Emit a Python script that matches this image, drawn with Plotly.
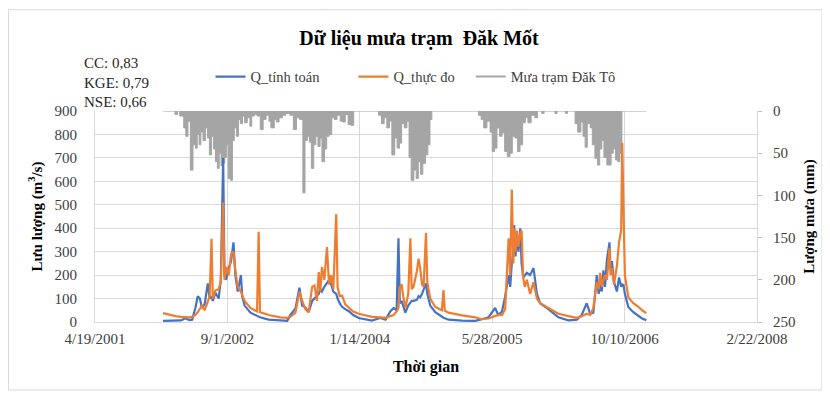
import plotly.graph_objects as go

# ---------------- data ----------------
q_dates = [
    "2002-01-01","2002-01-25","2002-02-17","2002-03-10","2002-03-26","2002-04-10","2002-04-21",
    "2002-05-03","2002-05-12","2002-05-20","2002-05-28","2002-06-07","2002-06-19","2002-06-26",
    "2002-07-03","2002-07-08","2002-07-18","2002-07-30","2002-08-07","2002-08-16","2002-08-21",
    "2002-08-27","2002-09-06","2002-09-15","2002-09-24","2002-10-01","2002-10-10","2002-10-22",
    "2002-10-27","2002-11-05","2002-11-27","2002-12-22","2002-12-28","2003-01-02","2003-02-04",
    "2003-03-20","2003-04-15","2003-04-27","2003-05-16","2003-05-31","2003-06-10","2003-06-22",
    "2003-07-05","2003-07-18","2003-07-27","2003-08-05","2003-08-12","2003-08-18","2003-08-24",
    "2003-09-02","2003-09-12","2003-09-20","2003-09-28","2003-10-06","2003-10-17","2003-10-22",
    "2003-10-30","2003-11-08","2003-11-20","2003-12-05","2003-12-20","2004-01-10","2004-02-29",
    "2004-03-31","2004-04-20","2004-05-08","2004-05-21","2004-06-01","2004-06-08","2004-06-13",
    "2004-06-20","2004-06-26","2004-07-04","2004-07-15","2004-07-23","2004-07-28","2004-08-04",
    "2004-08-17","2004-08-23","2004-08-29","2004-09-05","2004-09-11","2004-09-20","2004-09-25",
    "2004-10-06","2004-10-25","2004-11-19","2004-11-25","2004-11-30","2004-12-14","2005-02-03",
    "2005-03-25","2005-04-19","2005-05-14","2005-06-08","2005-06-20","2005-07-04","2005-07-16",
    "2005-07-29","2005-08-04","2005-08-10","2005-08-16","2005-08-19","2005-08-24","2005-08-29",
    "2005-09-04","2005-09-11","2005-09-16","2005-09-22","2005-09-28","2005-10-06","2005-10-18",
    "2005-10-31","2005-11-13","2005-11-25","2005-12-26","2006-02-02","2006-03-12","2006-04-13",
    "2006-05-01","2006-05-20","2006-06-02","2006-06-14","2006-06-27","2006-07-04","2006-07-10",
    "2006-07-16","2006-07-22","2006-07-28","2006-08-04","2006-08-14","2006-08-18","2006-08-23",
    "2006-08-31","2006-09-05","2006-09-11","2006-09-19","2006-09-27","2006-10-01","2006-10-06",
    "2006-10-11","2006-10-24","2006-11-12","2006-12-01","2006-12-15","2006-12-31",
]
q_sim = [
    5, 5, 6, 7, 16, 8, 10,
    60, 110, 100, 60, 75, 165, 100,
    110, 90, 125, 100, 180, 700, 200,
    180, 230, 260, 340, 200, 130, 200,
    110, 70, 40, 25, 23, 20, 10,
    5, 5, 30, 58, 146, 70, 63,
    42, 90, 100, 110, 120, 140, 130,
    150, 170, 180, 160, 130, 120, 100,
    80, 65, 55, 45, 30, 17, 6,
    17, 10, 45, 60, 50, 357, 80,
    90, 70, 40, 70, 80, 90, 90,
    95, 110, 105, 120, 140, 165, 120,
    70, 42, 20, 18, 16, 10, 6,
    5, 12, 20, 60, 30, 45, 110,
    200, 150, 250, 300, 414, 280, 380,
    300, 400, 250, 190, 200, 210, 200,
    230, 120, 80, 55, 20, 7, 10,
    30, 80, 35, 40, 200, 120, 160,
    130, 220, 150, 264, 340, 220, 260,
    170, 150, 130, 190, 150, 160, 158,
    120, 64, 42, 25, 15, 8,
]
q_obs = [
    38, 30, 25, 22, 20, 20, 22,
    30, 42, 55, 70, 50, 90, 110,
    355, 100, 135, 140, 170, 510, 180,
    235, 200, 290, 300, 220, 150, 130,
    115, 90, 60, 45, 385, 42, 30,
    20, 18, 22, 40, 129, 92, 55,
    42, 150, 156, 90, 213, 130, 235,
    180, 320, 160, 200, 140, 460, 150,
    110, 113, 75, 60, 45, 35, 22,
    20, 18, 25, 30, 45, 60, 150,
    160, 110, 60, 120, 357, 140, 150,
    220, 270, 230, 160, 150, 380, 170,
    100, 64, 50, 136, 48, 40, 28,
    20, 12, 15, 25, 30, 30, 55,
    357, 200, 565, 250, 400, 300, 390,
    320, 380, 390, 190, 150, 180, 120,
    170, 100, 80, 60, 35, 25, 18,
    25, 35, 30, 60, 170, 140, 210,
    150, 180, 200, 180, 315, 200, 230,
    160, 200, 240, 340, 390, 765, 380,
    200, 105, 80, 65, 50, 38,
]

rain_dates = [
    "2002-01-01","2002-02-15","2002-02-25","2002-03-05","2002-03-20","2002-03-28","2002-04-05",
    "2002-04-14","2002-04-24","2002-05-03","2002-05-10","2002-05-17","2002-05-24","2002-06-01",
    "2002-06-10","2002-06-18","2002-06-25","2002-07-03","2002-07-10","2002-07-18","2002-07-25",
    "2002-08-01","2002-08-08","2002-08-15","2002-08-22","2002-08-28","2002-09-04","2002-09-12",
    "2002-09-20","2002-09-27","2002-10-05","2002-10-13","2002-10-20","2002-10-28","2002-11-05",
    "2002-11-15","2002-11-25","2002-12-02","2002-12-12","2002-12-22",
    "2003-01-03","2003-01-14","2003-01-25","2003-02-05","2003-02-12","2003-02-25","2003-03-05",
    "2003-03-15","2003-03-28","2003-04-10","2003-04-25","2003-05-08","2003-05-20","2003-06-01",
    "2003-06-13","2003-06-21","2003-06-30","2003-07-08","2003-07-15","2003-07-24","2003-08-01",
    "2003-08-09","2003-08-17","2003-08-24","2003-09-03","2003-09-11","2003-09-20","2003-09-30",
    "2003-10-10","2003-10-20","2003-11-01","2003-11-10","2003-11-20","2003-12-01","2003-12-12",
    "2003-12-22",
    "2004-03-25","2004-04-05","2004-04-15","2004-04-25","2004-05-05","2004-05-14","2004-05-25",
    "2004-06-03","2004-06-12","2004-06-20","2004-06-30","2004-07-10","2004-07-18","2004-07-26",
    "2004-08-05","2004-08-14","2004-08-22","2004-08-30","2004-09-08","2004-09-18","2004-09-27",
    "2004-10-05","2004-10-12",
    "2005-04-06","2005-04-16","2005-04-26","2005-05-08","2005-05-20","2005-05-28","2005-06-06",
    "2005-06-15","2005-06-25","2005-07-04","2005-07-14","2005-07-24","2005-08-03","2005-08-12",
    "2005-08-22","2005-09-01","2005-09-10","2005-09-20","2005-09-30","2005-10-10","2005-10-22",
    "2005-11-05","2005-11-15","2005-12-01","2005-12-10",
    "2006-01-20","2006-01-28","2006-03-01","2006-03-08","2006-04-06","2006-04-16","2006-04-28",
    "2006-05-06","2006-05-14","2006-05-22","2006-06-02","2006-06-10","2006-06-20","2006-06-30",
    "2006-07-08","2006-07-16","2006-07-24","2006-08-04","2006-08-12","2006-08-20","2006-08-28",
    "2006-09-06","2006-09-14","2006-09-22","2006-09-30","2006-12-31",
]
rain_mm = [
    0, 4, 0, 6, 20, 30, 12,
    70, 40, 44, 28, 40, 25, 35,
    20, 32, 52, 30, 45, 60, 68,
    50, 65, 62, 55, 40, 80, 82,
    35, 20, 30, 10, 15, 6, 14,
    8, 18, 6, 4, 6,
    22, 10, 5, 12, 20, 10, 13,
    8, 5, 3, 5, 22, 8, 10,
    97, 35, 30, 37, 68, 40, 30,
    42, 32, 60, 45, 30, 28, 8,
    10, 5, 12, 13, 4, 16, 17,
    0,
    5, 15, 8, 20, 12, 52, 32,
    44, 38, 15, 20, 12, 55, 82,
    70, 80, 60, 75, 62, 52, 40,
    10, 0,
    5, 10, 20, 12, 25, 48, 44,
    20, 30, 26, 48, 54, 50, 30,
    32, 48, 40, 14, 8, 14, 5,
    8, 0, 3, 0,
    3, 0, 3, 0, 15, 25, 13,
    30, 43, 15, 20, 40, 56, 64,
    45, 35, 55, 64, 64, 50, 45,
    58, 60, 50, 0, 0,
]

x_ticks = ["2001-04-19", "2002-09-01", "2004-01-14", "2005-05-28", "2006-10-10", "2008-02-22"]
left_ticks = [0, 100, 200, 300, 400, 500, 600, 700, 800, 900]
right_ticks = [0, 50, 100, 150, 200, 250]

# ---------------- styles ----------------
SERIF = "Liberation Serif, Times New Roman, serif"
BLUE = "#4472C4"
ORANGE = "#ED7D31"
GRAY = "#A5A5A5"
GRID = "#D9D9D9"
TXT = "#404040"
NB = "\u00a0"

fig = go.Figure()

# rainfall (drawn first, behind flows) on right reversed axis
fig.add_trace(go.Scatter(
    x=rain_dates, y=rain_mm, mode="lines", line=dict(color=GRAY, width=1, shape="hv"),
    fill="tozeroy", fillcolor=GRAY, showlegend=False, yaxis="y", hoverinfo="skip",
))
fig.add_trace(go.Scatter(
    x=q_dates, y=q_sim, mode="lines", name="Q_tính toán" + NB * 8,
    line=dict(color=BLUE, width=2.2), yaxis="y2",
))
fig.add_trace(go.Scatter(
    x=q_dates, y=q_obs, mode="lines", name="Q_thực đo" + NB * 3,
    line=dict(color=ORANGE, width=2.2), yaxis="y2",
))
# legend entry for rainfall (line symbol like the reference)
fig.add_trace(go.Scatter(
    x=[None], y=[None], mode="lines", name="Mưa trạm Đăk Tô",
    line=dict(color=GRAY, width=2), yaxis="y2",
))

# page body has an 8px margin: figure is 822x385 so the drawn chart spans the 830x393 window
W, H = 822, 385
L, R, T, B = 86.5, 73, 103, 71

fig.update_layout(
    width=W, height=H,
    margin=dict(l=L, r=R, t=T, b=B, autoexpand=False),
    paper_bgcolor="white", plot_bgcolor="white",
    font=dict(family=SERIF, size=15, color=TXT),
    title=dict(text="<b>Dữ liệu mưa trạm  Đăk Mốt</b>", x=0.5, xanchor="center",
               y=1 - 30 / H, yanchor="middle", font=dict(size=20, color="#000000", family=SERIF)),
    showlegend=True,
    legend=dict(orientation="h", x=0.1745, xanchor="left", y=1.163, yanchor="middle",
                font=dict(size=14.5, color=TXT, family=SERIF), itemwidth=30,
                bgcolor="rgba(0,0,0,0)", traceorder="normal"),
    xaxis=dict(
        type="date", range=[x_ticks[0], x_ticks[-1]], tickvals=x_ticks,
        tickformat="%-m/%-d/%Y", showgrid=True, gridcolor=GRID, gridwidth=1,
        showline=True, linecolor=GRID, ticks="", zeroline=False,
        tickfont=dict(size=15, color=TXT), ticklabelstandoff=3,
        title=dict(text="<b>Thời gian</b>", font=dict(size=16, color="#000000"), standoff=14),
    ),
    yaxis=dict(
        side="right", range=[250, 0], tickvals=right_ticks, showgrid=False,
        ticks="outside", ticklen=4, tickcolor="#BFBFBF", showline=True, linecolor=GRID,
        zeroline=False, tickfont=dict(size=15, color=TXT), ticklabelstandoff=8,
        title=dict(text="<b>Lượng mưa (mm)</b>", font=dict(size=15, color="#000000"), standoff=8),
    ),
    yaxis2=dict(
        overlaying="y", side="left", range=[0, 900], tickvals=left_ticks,
        showgrid=True, gridcolor=GRID, gridwidth=1, showline=True, linecolor=GRID,
        zeroline=False, ticks="", tickfont=dict(size=15, color=TXT), ticklabelstandoff=14,
        title=dict(text="<b>Lưu lượng (m<sup>3</sup>/s)</b>", font=dict(size=15, color="#000000"), standoff=8),
    ),
    annotations=[dict(
        text="CC: 0,83<br>KGE: 0,79<br>NSE: 0,66", xref="paper", yref="paper",
        x=-0.019, y=1.275, xanchor="left", yanchor="top", align="left", showarrow=False,
        font=dict(size=15, color="#262626", family=SERIF),
    )],
    shapes=[dict(type="rect", xref="paper", yref="paper", x0=-0.1306, x1=1.098,
                 y0=-0.322, y1=1.48, line=dict(color=GRID, width=1), layer="below")],
)

fig.write_html("out.html")
